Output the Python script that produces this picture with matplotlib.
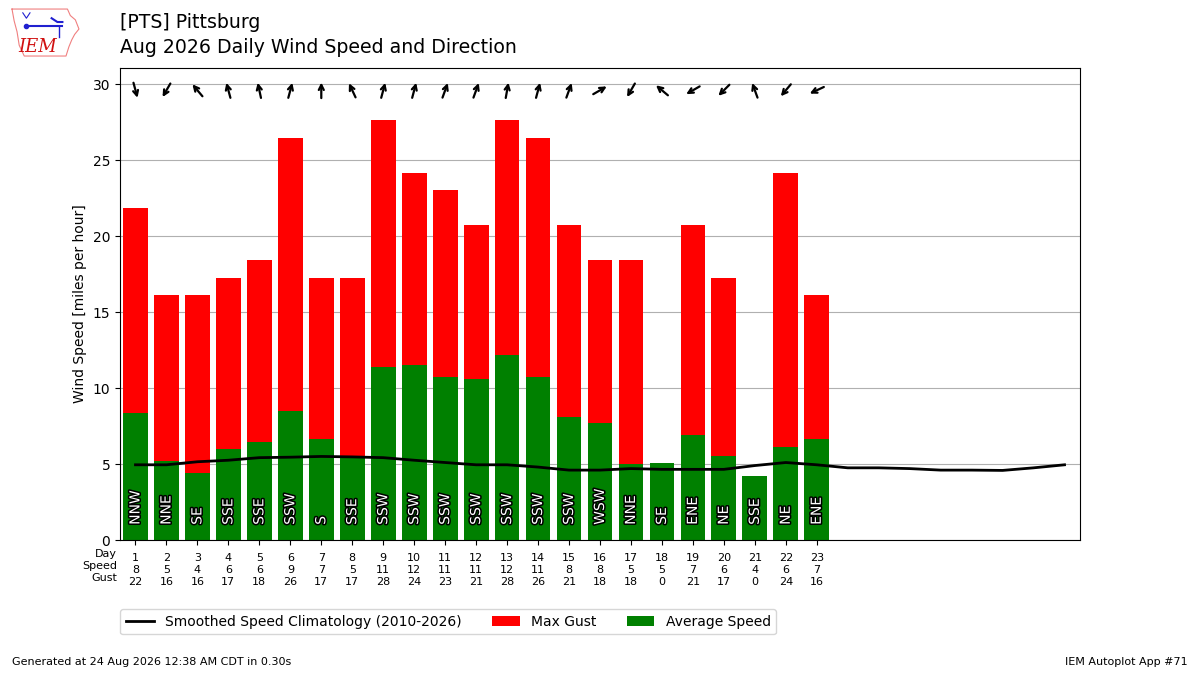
import numpy as np
import matplotlib
matplotlib.use("Agg")
import matplotlib.pyplot as plt
import matplotlib.patheffects as pe
from matplotlib.transforms import ScaledTranslation

# ---------------- data ----------------
days = list(range(1, 24))
avg_speed = [8.37, 5.2, 4.4, 6.0, 6.46, 8.5, 6.66, 5.5, 11.4, 11.5, 10.7, 10.6,
             12.2, 10.7, 8.1, 7.7, 5.0, 5.08, 6.9, 5.55, 4.2, 6.1, 6.66]
max_gust = [21.86, 16.11, 16.11, 17.26, 18.41, 26.47, 17.26, 17.26, 27.62, 24.17,
            23.02, 20.71, 27.62, 26.47, 20.71, 18.41, 18.41, 0, 20.71, 17.26, 0,
            24.17, 16.11]
speed_lbl = [8, 5, 4, 6, 6, 9, 7, 5, 11, 12, 11, 11, 12, 11, 8, 8, 5, 5, 7, 6, 4, 6, 7]
gust_lbl = [22, 16, 16, 17, 18, 26, 17, 17, 28, 24, 23, 21, 28, 26, 21, 18, 18, 0,
            21, 17, 0, 24, 16]
drct_deg = [345, 30, 140, 165, 168, 195, 180, 155, 195, 195, 200, 200, 190, 195,
            200, 240, 30, 130, 60, 45, 160, 40, 65]
drct_txt = ["NNW", "NNE", "SE", "SSE", "SSE", "SSW", "S", "SSE", "SSW", "SSW", "SSW",
            "SSW", "SSW", "SSW", "SSW", "WSW", "NNE", "SE", "ENE", "NE", "SSE", "NE",
            "ENE"]
clim_days = list(range(1, 32))
clim_speed = [4.95, 4.95, 5.15, 5.25, 5.42, 5.45, 5.5, 5.47, 5.42, 5.25, 5.1, 4.95,
              4.95, 4.8, 4.6, 4.6, 4.7, 4.65, 4.65, 4.65, 4.9, 5.1, 4.95, 4.75,
              4.75, 4.7, 4.6, 4.6, 4.58, 4.75, 4.95]

# ---------------- figure ----------------
fig = plt.figure(figsize=(12, 6.75), dpi=100)
ax = fig.add_axes([0.1, 0.2, 0.8, 0.7])

ax.bar(days, max_gust, width=0.8, color="r", label="Max Gust", zorder=2)
ax.bar(days, avg_speed, width=0.8, color="g", label="Average Speed", zorder=2)
ax.plot(clim_days, clim_speed, color="k", lw=2, zorder=4,
        label="Smoothed Speed Climatology (2010-2026)")

for d, t in zip(days, drct_txt):
    ax.text(d, 1, t, rotation=90, ha="center", va="bottom", color="white",
            fontsize=10, zorder=5,
            path_effects=[pe.withStroke(linewidth=2.2, foreground="k")])

ax.set_xlim(0.5, 31.5)
ax.set_ylim(0, 31.1)
ax.set_yticks([0, 5, 10, 15, 20, 25, 30])
ax.grid(axis="y", color="#b0b0b0", lw=0.8, zorder=0)
ax.set_axisbelow(True)
ax.set_ylabel("Wind Speed [miles per hour]")
ax.set_xticks(days)
ax.set_xticklabels([f"{d}\n{s}\n{g}" for d, s, g in zip(days, speed_lbl, gust_lbl)],
                   fontsize=8, linespacing=1.25)
ax.tick_params(axis="x", pad=6)
ax.text(-0.003, -0.019, "Day\nSpeed\nGust", transform=ax.transAxes, ha="right",
        va="top", fontsize=8, linespacing=1.25)

# direction arrows
half = 0.078  # inches
for d, deg in zip(days, drct_deg):
    t = np.radians(deg + 180)
    hx, hy = half * np.sin(t), half * np.cos(t)
    head_tr = ax.transData + ScaledTranslation(hx, hy, fig.dpi_scale_trans)
    tail_tr = ax.transData + ScaledTranslation(-hx, -hy, fig.dpi_scale_trans)
    ax.annotate("", xy=(d, 29.6), xycoords=head_tr, xytext=(d, 29.6),
                textcoords=tail_tr,
                arrowprops=dict(arrowstyle="->", lw=1.6, color="k",
                                mutation_scale=9, shrinkA=0, shrinkB=0),
                annotation_clip=False, zorder=6)

ax.legend(loc="upper left", bbox_to_anchor=(-0.007, -0.132), ncol=3, fontsize=10,
          handlelength=2, columnspacing=2.2)

# titles
fig.text(0.1, 0.966, "[PTS] Pittsburg", fontsize=13.6, va="center", ha="left")
fig.text(0.1, 0.929, "Aug 2026 Daily Wind Speed and Direction", fontsize=13.6,
         va="center", ha="left")

# footer
fig.text(0.01, 0.015, "Generated at 24 Aug 2026 12:38 AM CDT in 0.30s", fontsize=8)
fig.text(0.99, 0.015, "IEM Autoplot App #71", fontsize=8, ha="right")

# logo approximation
lax = fig.add_axes([0.007, 0.913, 0.06, 0.08])
lax.set_xlim(0, 1)
lax.set_ylim(0, 1)
lax.axis("off")
ox = [0.05, 0.82, 0.86, 0.93, 0.98, 0.92, 0.88, 0.84, 0.80, 0.22, 0.15, 0.12, 0.08, 0.05]
oy = [0.92, 0.92, 0.80, 0.72, 0.55, 0.45, 0.35, 0.22, 0.05, 0.05, 0.25, 0.50, 0.70, 0.92]
lax.plot(ox, oy, color="#f08080", lw=0.8)
lax.plot([0.25, 0.75], [0.6, 0.6], color="#2020d0", lw=1.5)
lax.plot([0.25], [0.6], "o", color="#2020d0", ms=3)
lax.plot([0.6, 0.68, 0.75], [0.75, 0.68, 0.68], color="#2020d0", lw=1.5)
lax.plot([0.7, 0.7], [0.6, 0.4], color="#2020d0", lw=1)
lax.plot([0.2, 0.25, 0.3], [0.85, 0.75, 0.85], color="#2020d0", lw=0.8)
lax.text(0.4, 0.22, "IEM", color="#d01010", fontsize=13, style="italic",
         family="DejaVu Serif", ha="center", va="center")

fig.savefig("out.png", dpi=100)
